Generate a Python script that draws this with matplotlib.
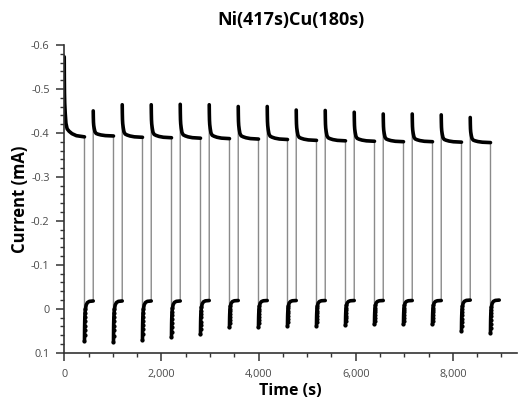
import matplotlib
matplotlib.use("Agg")
import matplotlib.pyplot as plt
from matplotlib.ticker import MultipleLocator, FuncFormatter
import numpy as np

plt.rcParams['font.family'] = ['Open Sans', 'DejaVu Sans']

# pulse program
ni_time = 417
cu_time = 180
n_cycles = 15

# per-cycle readings (mA)
ni_peak = [-0.573, -0.450, -0.464, -0.464, -0.465, -0.464, -0.460, -0.460,
           -0.452, -0.451, -0.447, -0.443, -0.443, -0.441, -0.435]
ni_plateau = [-0.391, -0.393, -0.390, -0.389, -0.388, -0.387, -0.386, -0.385,
              -0.383, -0.382, -0.381, -0.380, -0.380, -0.379, -0.378]
cu_dip = [0.073, 0.075, 0.071, 0.064, 0.058, 0.042, 0.042, 0.038,
          0.038, 0.037, 0.035, 0.035, 0.035, 0.050, 0.054]
cu_plateau = [-0.018, -0.018, -0.018, -0.018, -0.019, -0.019, -0.019, -0.019,
              -0.019, -0.019, -0.019, -0.019, -0.019, -0.020, -0.020]

# transient shapes inside each pulse: seconds after switching, share of the
# distance between the first reading and the settled value
ni_offsets = [0, 2, 5, 10, 20, 35, 60, 100, 160, 250, 417]
ni_share = [1, 0.75, 0.55, 0.42, 0.3, 0.17, 0.1, 0.07, 0.04, 0.015, 0]
cu_offsets = [0, 1, 2, 3, 5, 8, 12, 20, 35, 60, 100, 180]
cu_share = [1, 0.85, 0.72, 0.62, 0.5, 0.4, 0.3, 0.2, 0.1, 0.04, 0.01, 0]

fig = plt.figure(figsize=(5.18, 4.01), dpi=100)
ax = fig.add_axes([0.124, 0.12, 0.874, 0.768])

period = ni_time + cu_time
all_t, all_i = [], []
segments = []
for k in range(n_cycles):
    t0 = k * period
    t_ni = t0 + np.array(ni_offsets, dtype=float)
    i_ni = ni_plateau[k] + np.array(ni_share) * (ni_peak[k] - ni_plateau[k])
    t_cu = t0 + ni_time + np.array(cu_offsets, dtype=float)
    i_cu = cu_plateau[k] + np.array(cu_share) * (cu_dip[k] - cu_plateau[k])
    segments.append((t_ni, i_ni, t_cu, i_cu))
    all_t += list(t_ni) + list(t_cu)
    all_i += list(i_ni) + list(i_cu)

# thin grey trace joins the pulses
ax.plot(all_t, all_i, color='#8a8a8a', lw=1.0, zorder=1)
for t_ni, i_ni, t_cu, i_cu in segments:
    ax.plot(t_ni, i_ni, color='black', lw=2.6, solid_capstyle='round', zorder=2)
    ax.plot(t_cu, i_cu, color='black', lw=2.6, solid_capstyle='round', zorder=2)
    ax.plot(t_cu[:8], i_cu[:8], 'o', color='black', ms=2.0, zorder=3)

ax.set_xlim(0, 9320)
ax.set_ylim(0.1, -0.6)

ax.xaxis.set_major_locator(MultipleLocator(2000))
ax.xaxis.set_minor_locator(MultipleLocator(500))
ax.yaxis.set_major_locator(MultipleLocator(0.1))
ax.yaxis.set_minor_locator(MultipleLocator(0.02))
ax.xaxis.set_major_formatter(FuncFormatter(lambda v, p: f"{v:,.0f}"))
ax.yaxis.set_major_formatter(FuncFormatter(
    lambda v, p: "0" if abs(v) < 1e-9 else f"{v:.1f}"))

for side in ['top', 'right']:
    ax.spines[side].set_visible(False)
for side in ['left', 'bottom']:
    ax.spines[side].set_color('#333333')
    ax.spines[side].set_linewidth(1.2)

ax.tick_params(which='major', direction='out', length=5.5, width=1.1,
               color='#333333', labelsize=7.8, labelcolor='#4a4a4a')
ax.tick_params(axis='y', which='major', pad=5)
ax.tick_params(axis='x', which='major', pad=6)
ax.tick_params(which='minor', direction='out', length=3, width=1.0,
               color='#333333')

ax.set_xlabel('Time (s)', fontsize=11.5, fontweight='bold', labelpad=2)
ax.set_ylabel('Current (mA)', fontsize=12, fontweight='bold', labelpad=1.5)
ax.set_title('Ni(417s)Cu(180s)', fontsize=13, fontweight='bold', pad=14)

fig.savefig('out.png', dpi=100)
